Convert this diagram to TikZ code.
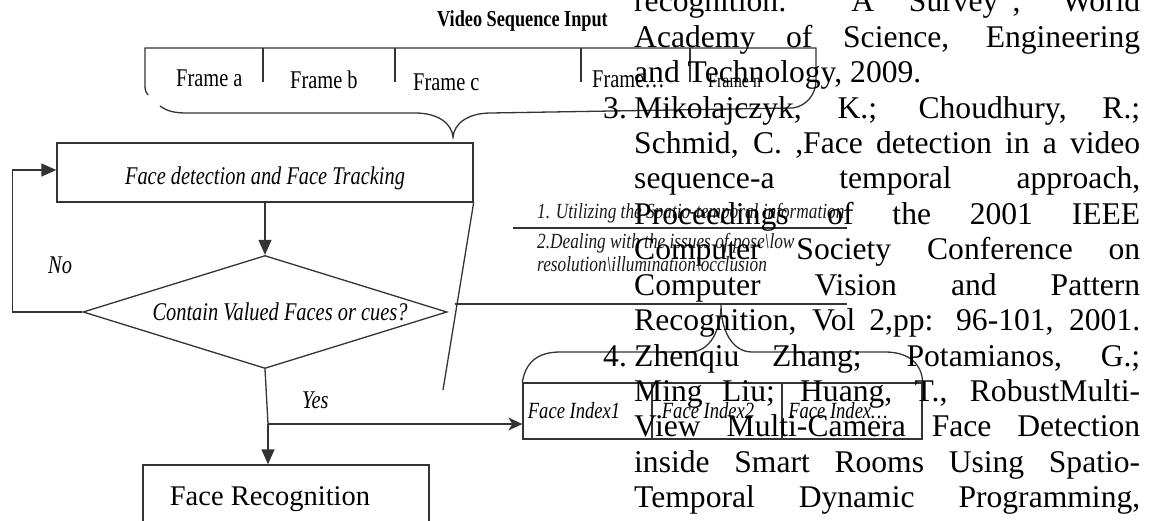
\documentclass[tikz,border=0pt]{standalone}
\usepackage{fontspec}
\setmainfont{Liberation Serif}
\newfontfamily\diag[FakeStretch=0.8]{Liberation Serif}
\usetikzlibrary{arrows.meta,shapes.geometric}

\begin{document}
\begin{tikzpicture}[x=1pt,y=-1pt,
  ln/.style={draw=black!80,line width=1.3pt},
  box/.style={ln,rectangle,inner sep=0pt},
  body/.style={anchor=base west,inner sep=0pt,font=\fontsize{31.6}{35}\selectfont},
  dlabel/.style={inner sep=0pt,font=\diag\itshape\fontsize{25.5}{28}\selectfont},
  ixlabel/.style={inner sep=0pt,font=\diag\itshape\fontsize{23.2}{25}\selectfont},
  frm/.style={anchor=base west,inner sep=0pt,font=\diag\fontsize{25.5}{28}\selectfont},
  note/.style={anchor=base west,inner sep=0pt,text=black!90,font=\diag\itshape\fontsize{21.6}{24}\selectfont},
  tri/.style={-{Triangle[length=15pt,width=13pt]}},
  stl/.style={-{Stealth[length=14pt,width=13pt,inset=4pt]}}
]
\useasboundingbox (0,0) rectangle (1150,521);
\clip (0,0) rectangle (1150,521);

% ---------- video sequence strip ----------
\node[anchor=base west,inner sep=0pt,font=\diag\bfseries\fontsize{22.8}{26}\selectfont] (title) at (437,27) {Video Sequence Input};
\draw[ln] (148,95) .. controls (146,93) and (145,90) .. (145,86) -- (145,48) -- (816,48) -- (816,80)
  .. controls (816,95) and (806,106) .. (793,108);
\foreach \x in {263,395,581,690} \draw[ln] (\x,48) -- (\x,82);
\node[frm] (fra) at (176,87) {Frame a};
\node[frm] (frb) at (290,89) {Frame b};
\node[frm] (frc) at (413,91) {Frame c};
\node[frm] (frd) at (592,88) {Frame…};
\node[frm,font=\diag\fontsize{20}{22}\selectfont] (frn) at (708,88) {Frame n};
% brace gathering the frames
\draw[ln] (160,106) .. controls (167,111) and (174,113) .. (187,113) -- (415,113)
  .. controls (440,113) and (452,125) .. (453,137)
  .. controls (454,125) and (466,113) .. (491,113) -- (793,108);

% ---------- flow ----------
\node[box,dlabel,minimum width=416pt,minimum height=59pt,text height=28pt,text depth=3pt] (det) at (265,172.5) {Face detection and Face Tracking};
\node[ln,diamond,aspect=3.2,dlabel,minimum width=364pt,minimum height=113pt] (dec) at (265,312) {\hspace*{30pt}Contain Valued Faces or cues?};
\node[box,minimum width=286pt,minimum height=80pt,text height=12pt,text depth=12pt,font=\fontsize{28.5}{32}\selectfont] (rec) at (286,505) {Face Recognition\hspace*{32pt}};

\node[box,ixlabel,minimum width=129pt,minimum height=56pt] (ix1) at (587.5,411) {Face Index1\hspace*{27pt}};
\node[box,ixlabel,minimum width=130pt,minimum height=56pt] (ix2) at (717,411) {Face Index2\hspace*{18pt}};
\node[box,ixlabel,minimum width=140pt,minimum height=56pt] (ix3) at (852,411) {Face Index…\hspace*{28pt}};

\draw[ln,tri] (det.south) -- (dec.north);
\draw[ln,tri] (dec.west) -- ++(-70,0) |- ([yshift=2.5pt]det.west);
\node[dlabel,anchor=base west] (no) at (48,273) {No};

\coordinate (yj) at (268,424);
\draw[ln] (dec.south) -- (yj);
\draw[ln,tri] (yj) -- (yj |- rec.north);
\draw[ln,stl] (yj) -- (yj -| ix1.west);
\node[dlabel,anchor=base west] (yes) at (302,408) {Yes};

% brace gathering the face indices
\draw[ln] (ix1.north west) .. controls (525,365) and (535,352) .. (560,352) -- (690,352)
  .. controls (710,352) and (721,330) .. (721,305)
  .. controls (721,330) and (732,352) .. (752,352) -- (885,352)
  .. controls (910,352) and (922,365) .. (ix3.north east);

% ---------- annotation ----------
\coordinate (sl) at (443,390);
\coordinate (ua) at (513,228);
\coordinate (ub) at (847,228);
\coordinate (la) at (455,304);
\coordinate (lb) at (847,304);
\draw[ln] (det.south east) -- (sl);
\draw[ln] (ua) -- (ub);
\draw[ln] (la) -- (lb);
\node[note] (n1) at (537,219) {1. Utilizing the Spatio-temporal information};
\node[note] (n2) at (537,248) {2.Dealing with the issues of pose\textbackslash low};
\node[note] (n3) at (537,271) {resolution\textbackslash illumination\textbackslash occlusion};

% ---------- reference list text ----------
\node[body] (t0) at (634,12) {\makebox[506pt][s]{recognition: A Survey”, World}};
\node[body] (t1) at (634,47.4) {\makebox[506pt][s]{Academy of Science, Engineering}};
\node[body] (t2) at (634,82.8) {and Technology, 2009.};
\node[body] (k3) at (603,118.2) {3.};
\node[body] (t3) at (634,118.2) {\makebox[506pt][s]{Mikolajczyk, K.; Choudhury, R.;}};
\node[body] (t4) at (634,153.6) {\makebox[506pt][s]{Schmid, C. ,Face detection in a video}};
\node[body] (t5) at (634,189) {\makebox[506pt][s]{sequence-a temporal approach,}};
\node[body] (t6) at (634,224.4) {\makebox[506pt][s]{Proceedings of the 2001 IEEE}};
\node[body] (t7) at (634,259.8) {\makebox[506pt][s]{Computer Society Conference on}};
\node[body] (t8) at (634,295.2) {\makebox[506pt][s]{Computer Vision and Pattern}};
\node[body] (t9) at (634,330.6) {\makebox[506pt][s]{Recognition, Vol 2,pp: 96-101, 2001.}};
\node[body] (k4) at (603,366) {4.};
\node[body] (t10) at (634,366) {\makebox[506pt][s]{Zhenqiu Zhang; Potamianos, G.;}};
\node[body] (t11) at (634,401.4) {\makebox[506pt][s]{Ming Liu; Huang, T., RobustMulti-}};
\node[body] (t12) at (634,436.8) {\makebox[506pt][s]{View Multi-Camera Face Detection}};
\node[body] (t13) at (634,472.2) {\makebox[506pt][s]{inside Smart Rooms Using Spatio-}};
\node[body] (t14) at (634,507.6) {\makebox[506pt][s]{Temporal Dynamic Programming,}};
\end{tikzpicture}
\end{document}
